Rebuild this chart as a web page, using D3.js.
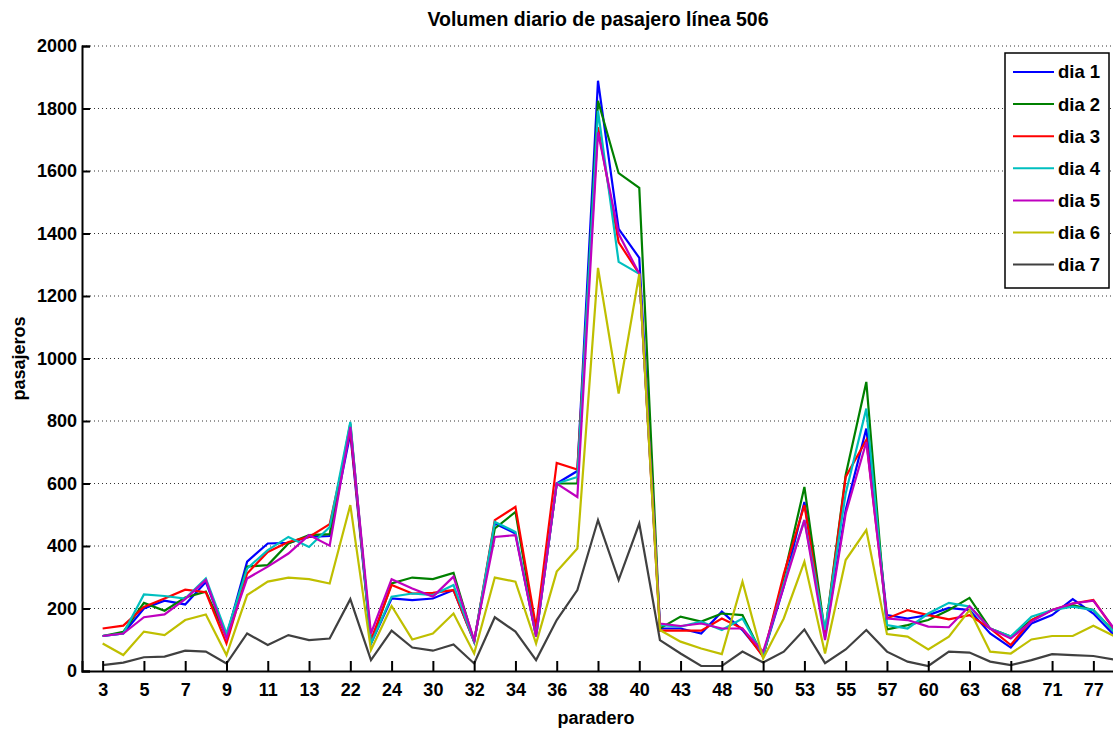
<!DOCTYPE html>
<html>
<head>
<meta charset="utf-8">
<script src="https://cdn.jsdelivr.net/npm/d3@7"></script>
<style>
  body { margin: 0; background: #fff; }
  text { font-family: "Liberation Sans", Arial, sans-serif; font-weight: bold; }
</style>
</head>
<body>
<svg id="chart" width="1113" height="731"></svg>
<script>
// paradero index 1..50, only odd positions carry a label
var tickLabels = ["3","5","7","9","11","13","22","24","30","32","34","36","38","40","43","48","50","53","55","57","60","63","68","71","77"];
var seriesNames = ["dia 1","dia 2","dia 3","dia 4","dia 5","dia 6","dia 7"];
var colors = ["#0000ff","#008000","#ff0000","#00bfbf","#bf00bf","#bfbf00","#404040"];

var dia1 = [112,120,200,225,213,285,110,350,408,410,429,432,760,88,232,227,232,259,94,472,440,110,600,640,1889,1415,1322,136,136,120,190,131,50,270,541,110,515,776,179,168,179,202,195,120,75,152,179,230,184,115];
var dia2 = [112,125,218,193,235,254,110,334,339,408,435,438,792,88,280,299,294,314,94,456,509,120,600,600,1825,1593,1546,136,174,158,184,179,46,300,589,120,627,925,133,147,163,195,234,136,110,163,195,211,195,126];
var dia3 = [136,145,205,232,260,252,88,312,381,413,429,470,770,99,275,248,250,259,94,483,525,140,666,645,1740,1372,1271,129,129,129,168,136,46,310,531,115,621,739,168,195,179,165,179,136,83,163,195,216,227,133];
var dia4 = [112,120,245,240,232,296,120,328,387,429,397,461,797,88,238,248,243,275,94,477,445,110,600,621,1793,1309,1271,147,142,158,131,168,51,280,483,131,568,840,147,136,184,218,206,136,110,174,195,206,195,126];
var dia5 = [112,120,172,181,230,291,104,296,334,376,435,401,781,120,294,264,238,302,99,429,435,110,600,557,1724,1399,1271,152,144,152,136,136,62,270,483,99,504,733,168,163,142,140,208,136,104,158,195,216,225,136];
var dia6 = [88,51,126,115,163,181,51,243,286,299,294,280,531,67,208,101,120,184,56,299,286,88,318,392,1290,888,1271,131,94,72,54,286,40,168,350,56,355,451,118,110,69,110,195,62,56,101,112,112,145,112];
var dia7 = [19,27,44,46,65,62,24,120,83,115,99,104,230,35,129,75,65,85,24,172,126,35,163,259,483,291,472,99,56,16,16,62,27,62,133,25,69,131,62,30,16,62,59,30,19,35,54,51,48,37];

var series = [dia1, dia2, dia3, dia4, dia5, dia6, dia7];

var svg = d3.select("#chart");
var plotLeft = 82, plotRight = 1114, plotTop = 46, plotBottom = 671;

var x = d3.scaleLinear().domain([0, 50]).range([plotLeft, plotRight]);
var y = d3.scaleLinear().domain([0, 2000]).range([plotBottom, plotTop]);

// dotted grid
svg.append("g")
  .selectAll("line")
  .data(d3.range(200, 2001, 200))
  .join("line")
  .attr("x1", plotLeft).attr("x2", plotRight)
  .attr("y1", d => y(d)).attr("y2", d => y(d))
  .attr("stroke", "#333")
  .attr("stroke-width", 1)
  .attr("stroke-dasharray", "1,3");

var line = d3.line()
  .x((d, i) => x(i + 1))
  .y(d => y(d));

svg.append("g")
  .selectAll("path")
  .data(series)
  .join("path")
  .attr("d", line)
  .attr("fill", "none")
  .attr("stroke", (d, i) => colors[i])
  .attr("stroke-width", 2.2);

var xAxis = d3.axisBottom(x)
  .tickValues(d3.range(1, 50, 2))
  .tickFormat(d => tickLabels[(d - 1) / 2])
  .tickSize(-10)
  .tickPadding(12);

var gx = svg.append("g")
  .attr("transform", "translate(0," + plotBottom + ")")
  .call(xAxis);

var yAxis = d3.axisLeft(y)
  .tickValues(d3.range(0, 2001, 200))
  .tickFormat(d3.format("d"))
  .tickSize(-8)
  .tickPadding(5);

var gy = svg.append("g")
  .attr("transform", "translate(" + plotLeft + ",0)")
  .call(yAxis);

[gx, gy].forEach(function(g) {
  g.select(".domain").attr("stroke", "#000").attr("stroke-width", 2);
  g.selectAll(".tick line").attr("stroke", "#000").attr("stroke-width", 2);
  g.selectAll(".tick text").attr("fill", "#000").style("font-size", "18px");
});

svg.append("text")
  .attr("x", (plotLeft + plotRight) / 2)
  .attr("y", 26)
  .attr("text-anchor", "middle")
  .style("font-size", "19.5px")
  .text("Volumen diario de pasajero línea 506");

svg.append("text")
  .attr("x", (plotLeft + plotRight) / 2 - 2)
  .attr("y", 724)
  .attr("text-anchor", "middle")
  .style("font-size", "18px")
  .text("paradero");

svg.append("text")
  .attr("transform", "translate(25," + (plotTop + plotBottom) / 2 + ") rotate(-90)")
  .attr("text-anchor", "middle")
  .style("font-size", "18px")
  .text("pasajeros");

// legend
var legend = svg.append("g").attr("transform", "translate(1005,53)");
legend.append("rect")
  .attr("width", 104).attr("height", 235)
  .attr("fill", "#fff").attr("stroke", "#000").attr("stroke-width", 1.5);

var items = legend.selectAll("g.item")
  .data(seriesNames)
  .join("g")
  .attr("class", "item")
  .attr("transform", (d, i) => "translate(0," + (19 + i * 32.1) + ")");

items.append("line")
  .attr("x1", 8).attr("x2", 49)
  .attr("stroke", (d, i) => colors[i])
  .attr("stroke-width", 2);

items.append("text")
  .attr("x", 53)
  .attr("dy", "0.35em")
  .style("font-size", "18.5px")
  .text(d => d);
</script>
</body>
</html>
